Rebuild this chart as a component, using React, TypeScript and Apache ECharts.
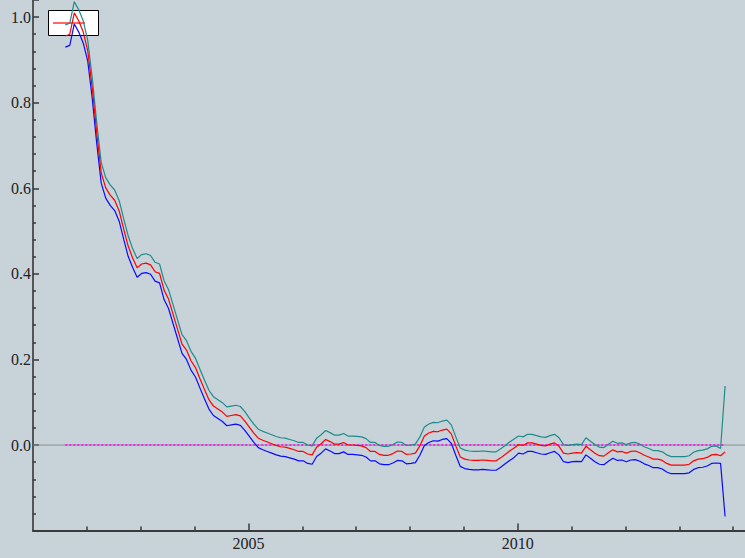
import React, { useEffect, useRef } from "react";
import * as echarts from "echarts";

// monthly series, first month ~ Aug 2001
const startYear = 2001.6;

const estimate = [
  0.956, 0.96, 1.01, 0.991, 0.965, 0.921, 0.834, 0.729, 0.636, 0.601,
  0.584, 0.572, 0.547, 0.505, 0.465, 0.437, 0.414, 0.423, 0.425, 0.421,
  0.405, 0.401, 0.362, 0.341, 0.306, 0.271, 0.236, 0.222, 0.197, 0.181,
  0.155, 0.13, 0.106, 0.091, 0.084, 0.077, 0.067, 0.069, 0.071, 0.068,
  0.056, 0.042, 0.028, 0.016, 0.011, 0.007, 0.003, -0.001, -0.004, -0.005,
  -0.008, -0.011, -0.015, -0.015, -0.021, -0.023, -0.005, 0.003, 0.013, 0.008,
  0.002, 0.002, 0.006, 0.0, 0.0, -0.001, -0.002, -0.006, -0.015, -0.015,
  -0.022, -0.024, -0.024, -0.02, -0.014, -0.015, -0.022, -0.021, -0.019, -0.002,
  0.021, 0.028, 0.032, 0.031, 0.035, 0.037, 0.026, -0.002, -0.028, -0.033,
  -0.035, -0.036, -0.036, -0.035, -0.036, -0.037, -0.037, -0.03, -0.022, -0.014,
  -0.007, 0.001, -0.001, 0.005, 0.005, 0.002, -0.001, -0.002, 0.002, 0.005,
  -0.003, -0.019, -0.021, -0.019, -0.018, -0.019, -0.003, -0.011, -0.019, -0.025,
  -0.026, -0.018, -0.011, -0.016, -0.015, -0.019, -0.015, -0.014, -0.018, -0.024,
  -0.028, -0.033, -0.033, -0.036, -0.043, -0.047, -0.047, -0.047, -0.047, -0.045,
  -0.037, -0.033, -0.032, -0.029, -0.023, -0.022, -0.025, -0.016,
];

const upper = [
  0.982, 0.986, 1.036, 1.017, 0.991, 0.945, 0.858, 0.753, 0.66, 0.625,
  0.608, 0.596, 0.571, 0.529, 0.489, 0.459, 0.436, 0.445, 0.447, 0.443,
  0.427, 0.423, 0.384, 0.363, 0.328, 0.293, 0.258, 0.244, 0.219, 0.203,
  0.177, 0.152, 0.128, 0.113, 0.106, 0.099, 0.089, 0.091, 0.093, 0.09,
  0.078, 0.063, 0.049, 0.037, 0.032, 0.028, 0.024, 0.02, 0.017, 0.016,
  0.013, 0.01, 0.006, 0.006, 0.0, -0.002, 0.016, 0.024, 0.034, 0.029,
  0.023, 0.023, 0.027, 0.021, 0.021, 0.02, 0.019, 0.015, 0.006, 0.006,
  -0.001, -0.003, -0.003, 0.001, 0.007, 0.006, -0.001, 0.0, 0.002, 0.019,
  0.042, 0.049, 0.053, 0.052, 0.056, 0.058, 0.047, 0.019, -0.007, -0.012,
  -0.014, -0.015, -0.015, -0.014, -0.015, -0.016, -0.016, -0.009, -0.001, 0.007,
  0.014, 0.021, 0.019, 0.025, 0.025, 0.022, 0.019, 0.018, 0.022, 0.025,
  0.017, 0.001, -0.001, 0.001, 0.002, 0.001, 0.017, 0.009, 0.001, -0.005,
  -0.006, 0.002, 0.009, 0.004, 0.005, 0.001, 0.005, 0.006, 0.002, -0.004,
  -0.008, -0.013, -0.013, -0.016, -0.023, -0.027, -0.027, -0.027, -0.027, -0.025,
  -0.017, -0.013, -0.012, -0.009, -0.003, -0.002, -0.008, 0.138,
];

const lower = [
  0.93, 0.934, 0.984, 0.965, 0.939, 0.897, 0.81, 0.705, 0.612, 0.577,
  0.56, 0.548, 0.523, 0.481, 0.441, 0.415, 0.392, 0.401, 0.403, 0.399,
  0.383, 0.379, 0.34, 0.319, 0.284, 0.249, 0.214, 0.2, 0.175, 0.159,
  0.133, 0.108, 0.084, 0.069, 0.062, 0.055, 0.045, 0.047, 0.049, 0.046,
  0.034, 0.02, 0.006, -0.006, -0.011, -0.015, -0.019, -0.023, -0.026, -0.027,
  -0.03, -0.033, -0.037, -0.037, -0.043, -0.045, -0.027, -0.019, -0.009, -0.014,
  -0.02, -0.02, -0.016, -0.022, -0.022, -0.023, -0.024, -0.028, -0.037, -0.037,
  -0.044, -0.046, -0.046, -0.042, -0.036, -0.037, -0.044, -0.043, -0.041, -0.024,
  -0.001, 0.006, 0.01, 0.009, 0.013, 0.015, 0.004, -0.024, -0.05, -0.055,
  -0.057, -0.058, -0.058, -0.057, -0.058, -0.059, -0.059, -0.052, -0.044, -0.036,
  -0.029, -0.019, -0.021, -0.015, -0.015, -0.018, -0.021, -0.022, -0.018, -0.015,
  -0.023, -0.039, -0.041, -0.039, -0.038, -0.039, -0.023, -0.031, -0.039, -0.045,
  -0.046, -0.038, -0.031, -0.036, -0.035, -0.039, -0.035, -0.034, -0.038, -0.044,
  -0.048, -0.053, -0.053, -0.056, -0.063, -0.067, -0.067, -0.067, -0.067, -0.065,
  -0.057, -0.053, -0.052, -0.049, -0.043, -0.042, -0.043, -0.167,
];

const xLabelYears = [2005, 2010];
const xMinorYears = [2002, 2003, 2004, 2006, 2007, 2008, 2009, 2011, 2012, 2013, 2014];
const xMin = 2001;
const xMax = 2014.22;
const yMin = -0.2;
const yMax = 1.04;

const dates = estimate.map((_, i) => startYear + i / 12);
const pairs = (vals: number[]) => vals.map((v, i) => [dates[i], v]);

export default function App() {
  const ref = useRef<HTMLDivElement>(null);
  useEffect(() => {
    if (!ref.current) return;
    const chart = echarts.init(ref.current, null, { renderer: "svg" });
    const font = "Times New Roman, Liberation Serif, serif";
    chart.setOption({
      animation: false,
      backgroundColor: "#c7d2d9",
      textStyle: { fontFamily: font },
      grid: { left: 33, right: 0, top: 0, bottom: 27.4, containLabel: false },
      xAxis: [
        {
          type: "value",
          min: xMin,
          max: xMax,
          splitLine: { show: false },
          axisLine: { show: true, onZero: false, lineStyle: { color: "#3a3a3a", width: 2 } },
          axisTick: {
            show: true,
            inside: true,
            length: 7,
            customValues: xLabelYears,
            lineStyle: { color: "#3a3a3a", width: 1.5 },
          },
          axisLabel: {
            customValues: xLabelYears,
            formatter: (v: number) => String(Math.round(v)),
            fontFamily: font,
            fontSize: 16,
            color: "#222",
            margin: 5,
          },
        },
        {
          type: "value",
          min: xMin,
          max: xMax,
          position: "bottom",
          splitLine: { show: false },
          axisLine: { show: false, onZero: false },
          axisTick: {
            show: true,
            inside: true,
            length: 4,
            customValues: xMinorYears,
            lineStyle: { color: "#3a3a3a", width: 1.5 },
          },
          axisLabel: { show: false },
        },
      ],
      yAxis: {
        type: "value",
        min: yMin,
        max: yMax,
        interval: 0.2,
        splitLine: { show: false },
        axisLine: { show: true, onZero: false, lineStyle: { color: "#555", width: 2 } },
        axisTick: { show: true, inside: true, length: 6, lineStyle: { color: "#3a3a3a", width: 1.5 } },
        minorTick: { show: true, splitNumber: 5, length: 3, lineStyle: { color: "#3a3a3a", width: 1.5 } },
        axisLabel: {
          formatter: (v: number) => (v < -0.1 || v > 1.01 ? "" : v.toFixed(1)),
          fontFamily: font,
          fontSize: 16,
          color: "#222",
          margin: 2,
        },
      },
      graphic: [
        {
          type: "rect",
          z: 1,
          shape: { x: 48.5, y: 10.5, width: 50, height: 25 },
          style: { fill: "#ffffff", stroke: "#000000", lineWidth: 1 },
        },
        {
          type: "line",
          z: 1,
          shape: { x1: 53, y1: 23, x2: 85, y2: 23 },
          style: { stroke: "#ff0000", lineWidth: 1.2 },
        },
      ],
      series: [
        {
          type: "line",
          data: [
            [xMin, 0],
            [xMax, 0],
          ],
          symbol: "none",
          silent: true,
          lineStyle: { color: "#8a8f92", width: 1 },
          z: 2,
        },
        {
          type: "line",
          data: [
            [dates[0], 0],
            [dates[dates.length - 1], 0],
          ],
          symbol: "none",
          silent: true,
          lineStyle: { color: "#ff00ff", width: 1.4, type: [2, 2] },
          z: 3,
        },
        {
          name: "upper",
          type: "line",
          data: pairs(upper),
          symbol: "none",
          lineStyle: { color: "#1f8c8a", width: 1.2 },
          z: 4,
        },
        {
          name: "lower",
          type: "line",
          data: pairs(lower),
          symbol: "none",
          lineStyle: { color: "#0a0aff", width: 1.2 },
          z: 4,
        },
        {
          name: "estimate",
          type: "line",
          data: pairs(estimate),
          symbol: "none",
          lineStyle: { color: "#ff0000", width: 1.2 },
          z: 5,
        },
      ],
    });
    return () => chart.dispose();
  }, []);
  return (
    <div
      ref={ref}
      style={{ position: "absolute", left: 0, top: 0, width: 745, height: 558 }}
    />
  );
}
